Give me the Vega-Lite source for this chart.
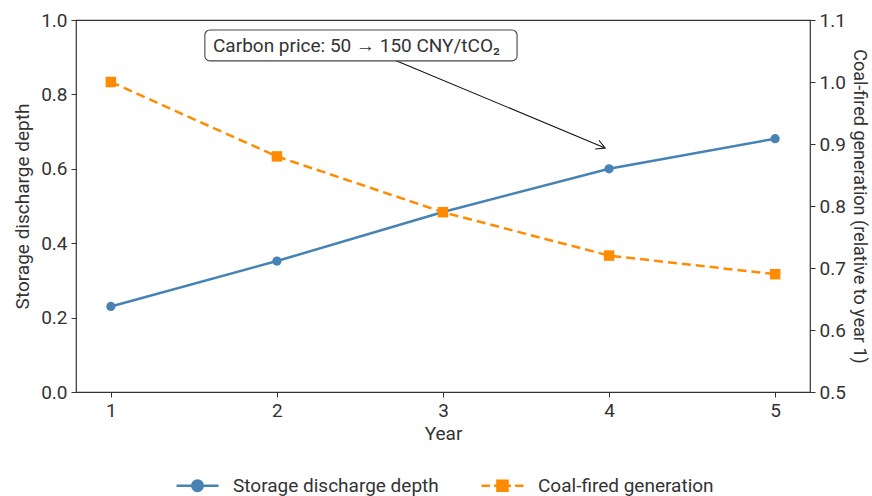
{
  "$schema": "https://vega.github.io/schema/vega-lite/v6.json",
  "autosize": "none",
  "width": 734,
  "height": 372,
  "padding": {"left": 76, "top": 20, "right": 62, "bottom": 104},
  "background": "white",
  "config": {
    "font": "Roboto",
    "view": {"stroke": "#333", "strokeWidth": 1.2},
    "axis": {"grid": false, "labelFontSize": 19, "titleFontSize": 19, "labelColor": "#333", "titleColor": "#333", "domainColor": "#333", "tickColor": "#333", "tickSize": 5, "labelPadding": 4, "titleFontWeight": "normal", "labelFont": "Roboto", "titleFont": "Roboto"},
    "legend": {"labelFont": "Roboto", "labelFontSize": 19, "labelColor": "#333", "labelLimit": 400}
  },
  "datasets": {
    "depth": [
      {"year": 1, "series": "Storage discharge depth", "value": 0.23},
      {"year": 2, "series": "Storage discharge depth", "value": 0.352},
      {"year": 3, "series": "Storage discharge depth", "value": 0.484},
      {"year": 4, "series": "Storage discharge depth", "value": 0.6},
      {"year": 5, "series": "Storage discharge depth", "value": 0.681}
    ],
    "coal": [
      {"year": 1, "series": "Coal-fired generation", "value": 1.0},
      {"year": 2, "series": "Coal-fired generation", "value": 0.88},
      {"year": 3, "series": "Coal-fired generation", "value": 0.79},
      {"year": 4, "series": "Coal-fired generation", "value": 0.72},
      {"year": 5, "series": "Coal-fired generation", "value": 0.69}
    ],
    "box": [{"x1": 1.566, "x2": 3.446, "y1": 0.973, "y2": 0.89, "tx": 1.615, "ty": 0.931, "label": "Carbon price: 50 → 150 CNY/tCO₂"}],
    "arrow": [{"x1": 2.711, "y1": 0.892, "x2": 3.976, "y2": 0.656}]
  },
  "layer": [
    {
      "layer": [
        {
          "data": {"name": "depth"},
          "mark": {"type": "line", "strokeWidth": 2.5},
          "encoding": {
            "x": {"field": "year", "type": "quantitative", "scale": {"domain": [0.79, 5.21], "nice": false, "zero": false}, "axis": {"values": [1, 2, 3, 4, 5], "format": "d", "title": "Year", "titlePadding": 4, "domain": false}},
            "y": {"field": "value", "type": "quantitative", "scale": {"domain": [0, 1], "nice": false}, "axis": {"values": [0, 0.2, 0.4, 0.6, 0.8, 1.0], "format": ".1f", "title": "Storage discharge depth", "titlePadding": 8, "domain": false}},
            "color": {
              "field": "series", "type": "nominal",
              "scale": {"domain": ["Storage discharge depth", "Coal-fired generation"], "range": ["#4682b4", "#ff8c00"]},
              "legend": {
                "title": null, "orient": "none", "direction": "horizontal", "legendX": 99, "legendY": 443,
                "symbolSize": 1764, "symbolStrokeWidth": 2.5, "labelOffset": 13, "columnPadding": 37,
                "encode": {"symbols": {"update": {
                  "shape": {"signal": "datum.value === 'Storage discharge depth' ? 'M-1,0L1,0M-0.25,0A0.25,0.25 0 1,1 0.25,0A0.25,0.25 0 1,1 -0.25,0Z' : 'M-1,0L-0.6,0M-0.4,0L-0.24,0M0.24,0L0.4,0M0.6,0L1,0M-0.24,-0.24L0.24,-0.24L0.24,0.24L-0.24,0.24Z'"},
                  "fill": {"signal": "datum.value === 'Storage discharge depth' ? '#4682b4' : '#ff8c00'"},
                  "stroke": {"signal": "datum.value === 'Storage discharge depth' ? '#4682b4' : '#ff8c00'"},
                  "fillOpacity": {"value": 1}
                }}}
              }
            }
          }
        },
        {
          "data": {"name": "depth"},
          "mark": {"type": "point", "filled": true, "opacity": 1, "size": 85, "shape": "circle"},
          "encoding": {
            "x": {"field": "year", "type": "quantitative"},
            "y": {"field": "value", "type": "quantitative"},
            "color": {"field": "series", "type": "nominal"}
          }
        },
        {
          "data": {"name": "arrow"},
          "mark": {"type": "rule", "color": "#111", "strokeWidth": 1.1},
          "encoding": {
            "x": {"field": "x1", "type": "quantitative"},
            "y": {"field": "y1", "type": "quantitative"},
            "x2": {"field": "x2"},
            "y2": {"field": "y2"}
          }
        },
        {
          "data": {"name": "arrow"},
          "mark": {"type": "point", "shape": "M-1,-0.55L0,0L-1,0.55", "filled": false, "stroke": "#111", "strokeWidth": 1.1, "size": 300, "angle": 22.7, "opacity": 1},
          "encoding": {
            "x": {"field": "x2", "type": "quantitative"},
            "y": {"field": "y2", "type": "quantitative"}
          }
        },
        {
          "data": {"name": "box"},
          "mark": {"type": "rect", "fill": "white", "stroke": "#444", "strokeWidth": 1.1, "cornerRadius": 5},
          "encoding": {
            "x": {"field": "x1", "type": "quantitative"},
            "x2": {"field": "x2"},
            "y": {"field": "y1", "type": "quantitative"},
            "y2": {"field": "y2"}
          }
        },
        {
          "data": {"name": "box"},
          "mark": {"type": "text", "align": "left", "baseline": "middle", "fontSize": 19, "color": "#333", "font": "Roboto"},
          "encoding": {
            "x": {"field": "tx", "type": "quantitative"},
            "y": {"field": "ty", "type": "quantitative"},
            "text": {"field": "label"}
          }
        }
      ]
    },
    {
      "layer": [
        {
          "data": {"name": "coal"},
          "mark": {"type": "line", "strokeWidth": 2.5, "strokeDash": [9, 5]},
          "encoding": {
            "x": {"field": "year", "type": "quantitative"},
            "y": {"field": "value", "type": "quantitative", "scale": {"domain": [0.5, 1.1], "nice": false, "zero": false}, "axis": {"orient": "right", "values": [0.5, 0.6, 0.7, 0.8, 0.9, 1.0, 1.1], "format": ".1f", "title": "Coal-fired generation (relative to year 1)", "titleFontSize": 18, "titlePadding": 4, "domain": false}},
            "color": {"field": "series", "type": "nominal"}
          }
        },
        {
          "data": {"name": "coal"},
          "mark": {"type": "point", "filled": true, "opacity": 1, "size": 110, "shape": "square"},
          "encoding": {
            "x": {"field": "year", "type": "quantitative"},
            "y": {"field": "value", "type": "quantitative"},
            "color": {"field": "series", "type": "nominal"}
          }
        }
      ]
    }
  ],
  "resolve": {"scale": {"y": "independent"}}
}
